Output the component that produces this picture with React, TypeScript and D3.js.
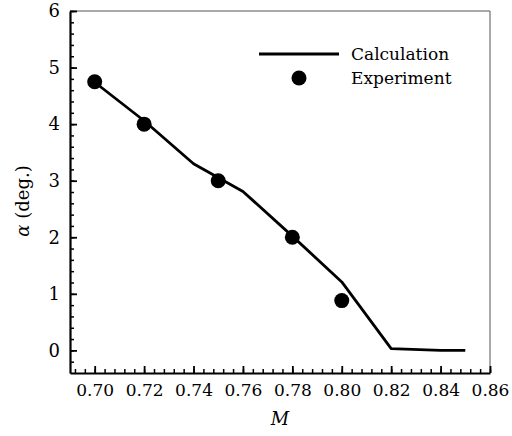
import React, { useEffect, useRef } from "react";
import * as d3 from "d3";

// calculation curve (M, alpha)
const calcM = [0.7, 0.72, 0.74, 0.76, 0.78, 0.8, 0.82, 0.84, 0.85];
const calcAlpha = [4.74, 4.06, 3.3, 2.81, 2.02, 1.21, 0.03, 0.0, 0.0];

// experiment points
const expM = [0.7, 0.72, 0.75, 0.78, 0.8];
const expAlpha = [4.75, 4.0, 3.0, 2.0, 0.88];

const xTicks = [0.7, 0.72, 0.74, 0.76, 0.78, 0.8, 0.82, 0.84, 0.86];
const yTicks = [0, 1, 2, 3, 4, 5, 6];

function App() {
  const svgRef = useRef<SVGSVGElement>(null);

  useEffect(() => {
    const svg = d3.select(svgRef.current);
    svg.selectAll("*").remove();
    const margin = { top: 11, right: 22, bottom: 63, left: 70 };
    const width = 512;
    const height = 436;
    const font = "'DejaVu Serif', serif";

    const x = d3
      .scaleLinear()
      .domain([0.69, 0.86])
      .range([margin.left, width - margin.right]);
    const y = d3
      .scaleLinear()
      .domain([-0.4, 6])
      .range([height - margin.bottom, margin.top]);

    // top and right frame
    svg
      .append("path")
      .attr("d", `M${x(0.69)},${y(6)}H${x(0.86)}V${y(-0.4)}`)
      .attr("fill", "none")
      .attr("stroke", "#555")
      .attr("stroke-width", 1);

    // minor ticks
    const xMinor = d3.range(0.692, 0.8601, 0.004);
    svg
      .append("g")
      .attr("transform", `translate(0, ${y(-0.4)})`)
      .call(d3.axisBottom(x).tickValues(xMinor).tickSize(-4).tickFormat(() => ""))
      .call((g) => g.select(".domain").remove())
      .selectAll("line")
      .attr("stroke-width", 1.5);

    const yMinor = d3.range(-0.2, 6.01, 0.2);
    svg
      .append("g")
      .attr("transform", `translate(${x(0.69)}, 0)`)
      .call(d3.axisLeft(y).tickValues(yMinor).tickSize(-4).tickFormat(() => ""))
      .call((g) => g.select(".domain").remove())
      .selectAll("line")
      .attr("stroke-width", 1.5);

    // major x axis
    const xg = svg
      .append("g")
      .attr("transform", `translate(0, ${y(-0.4)})`)
      .call(
        d3
          .axisBottom(x)
          .tickValues(xTicks)
          .tickSize(-7)
          .tickSizeOuter(0)
          .tickPadding(11)
          .tickFormat(d3.format(".2f"))
      );
    xg.attr("font-family", null).style("font-family", font);
    xg.select(".domain").attr("stroke-width", 2.2);
    xg.selectAll("line").attr("stroke-width", 1.8);
    xg.selectAll("text").style("font-size", "17px").attr("fill", "#000");

    // major y axis
    const yg = svg
      .append("g")
      .attr("transform", `translate(${x(0.69)}, 0)`)
      .call(
        d3
          .axisLeft(y)
          .tickValues(yTicks)
          .tickSize(-7)
          .tickSizeOuter(0)
          .tickPadding(10)
          .tickFormat(d3.format("d"))
      );
    yg.attr("font-family", null).style("font-family", font);
    yg.select(".domain").attr("stroke-width", 2.2);
    yg.selectAll("line").attr("stroke-width", 1.8);
    yg.selectAll("text").style("font-size", "18px").attr("fill", "#000");

    // calculation line
    const calc = calcM.map((m, i) => [m, calcAlpha[i]] as [number, number]);
    svg
      .append("path")
      .datum(calc)
      .attr("fill", "none")
      .attr("stroke", "#000")
      .attr("stroke-width", 2.8)
      .attr("stroke-linejoin", "round")
      .attr(
        "d",
        d3
          .line<[number, number]>()
          .x((d) => x(d[0]))
          .y((d) => y(d[1]))
      );

    // experiment points
    svg
      .append("g")
      .selectAll("circle")
      .data(expM.map((m, i) => [m, expAlpha[i]]))
      .join("circle")
      .attr("cx", (d) => x(d[0]))
      .attr("cy", (d) => y(d[1]))
      .attr("r", 7.5)
      .attr("fill", "#000");

    const labels = svg.append("g").style("font-family", font).style("font-size", "17px");

    // legend
    labels
      .append("line")
      .attr("x1", 259)
      .attr("x2", 339)
      .attr("y1", 54)
      .attr("y2", 54)
      .attr("stroke", "#000")
      .attr("stroke-width", 2.8);
    labels
      .append("circle")
      .attr("cx", 299)
      .attr("cy", 78)
      .attr("r", 7.5)
      .attr("fill", "#000");
    labels.append("text").attr("x", 351).attr("y", 60).text("Calculation");
    labels.append("text").attr("x", 351).attr("y", 84).text("Experiment");

    // X-axis label
    labels
      .append("text")
      .attr("x", (x(0.69) + x(0.86)) / 2)
      .attr("y", 425)
      .attr("text-anchor", "middle")
      .style("font-style", "italic")
      .style("font-size", "18px")
      .text("M");

    // Y-axis label
    const yl = labels
      .append("text")
      .attr("transform", `translate(29, ${(y(6) + y(-0.4)) / 2 + 9}) rotate(-90)`)
      .attr("text-anchor", "middle")
      .style("font-size", "18px");
    yl.append("tspan").style("font-style", "italic").text("α");
    yl.append("tspan").text(" (deg.)");
  }, []);

  return (
    <svg
      ref={svgRef}
      width={512}
      height={436}
      style={{ position: "absolute", left: 0, top: 0, background: "#fff" }}
    ></svg>
  );
}

export default App;
